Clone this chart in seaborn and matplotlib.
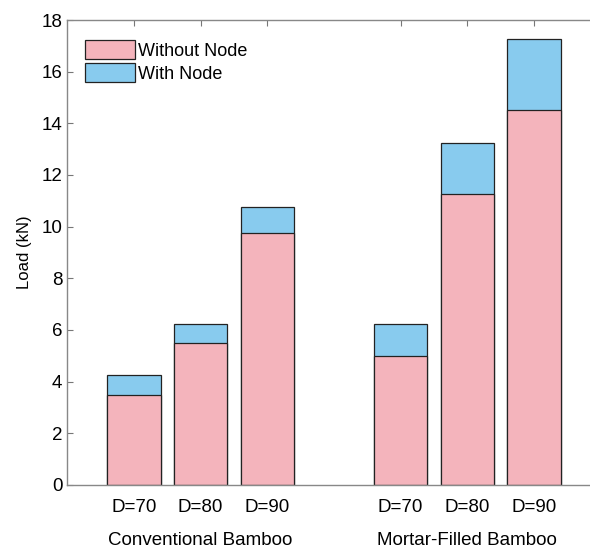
import matplotlib
matplotlib.use("Agg")
import matplotlib.pyplot as plt
import matplotlib.transforms as mtransforms
from matplotlib.patches import Patch
import seaborn as sns
import pandas as pd

groups = ["Conventional Bamboo", "Mortar-Filled Bamboo"]
diameters = ["D=70", "D=80", "D=90", "D=70", "D=80", "D=90"]
positions = [1, 2, 3, 5, 6, 7]
without_node = [3.5, 5.5, 9.75, 5.0, 11.25, 14.5]
with_node = [0.75, 0.75, 1.0, 1.25, 2.0, 2.75]

pink = "#F4B4BC"
blue = "#88CBEE"

df = pd.DataFrame({"pos": positions, "without": without_node, "extra": with_node})
df["total"] = df["without"] + df["extra"]

sns.set_style("white")
plt.rcParams["font.family"] = ["Liberation Sans", "DejaVu Sans"]
plt.rcParams["text.color"] = "black"
plt.rcParams["axes.labelcolor"] = "black"
plt.rcParams["xtick.color"] = "black"
plt.rcParams["ytick.color"] = "black"

fig = plt.figure(figsize=(5.9, 5.48), dpi=100)
ax = fig.add_axes([0.114, 0.115, 0.904, 0.8485])

# stacked: total first (blue), then the base part on top of it (pink)
sns.barplot(data=df, x="pos", y="total", native_scale=True, width=0.8,
            color=blue, saturation=1, edgecolor="#222222", linewidth=0.9, ax=ax)
sns.barplot(data=df, x="pos", y="without", native_scale=True, width=0.8,
            color=pink, saturation=1, edgecolor="#222222", linewidth=0.9, ax=ax)

ax.set_xlim(0, 8)
ax.set_ylim(0, 18)
ax.set_yticks(range(0, 19, 2))
ax.set_xticks(positions)
ax.set_xticklabels(diameters, fontsize=13.5)
ax.tick_params(axis="y", labelsize=13.5)
ax.tick_params(direction="in", length=4, width=0.8, bottom=True, top=True,
               left=True, right=False)
ax.tick_params(which="both", color="#777777")
ax.tick_params(axis="x", pad=10)
ax.set_xlabel("")
ax.set_ylabel("Load (kN)", fontsize=12, labelpad=7)
for side in ["left", "bottom", "top", "right"]:
    ax.spines[side].set_color("#888888")
    ax.spines[side].set_linewidth(1.0)

trans = mtransforms.blended_transform_factory(ax.transData, fig.transFigure)
ax.text(2, 0.005, groups[0], transform=trans, ha="center", va="baseline", fontsize=13.5)
ax.text(6, 0.005, groups[1], transform=trans, ha="center", va="baseline", fontsize=13.5)

handles = [Patch(facecolor=pink, edgecolor="#222222", linewidth=0.9, label="Without Node"),
           Patch(facecolor=blue, edgecolor="#222222", linewidth=0.9, label="With Node")]
ax.legend(handles=handles, loc="upper left", frameon=False, fontsize=13,
          handlelength=2.75, handleheight=1.2, handletextpad=0.15,
          labelspacing=0.2, bbox_to_anchor=(0.0, 0.995), borderaxespad=0.6)

fig.savefig("out.png", dpi=100)
